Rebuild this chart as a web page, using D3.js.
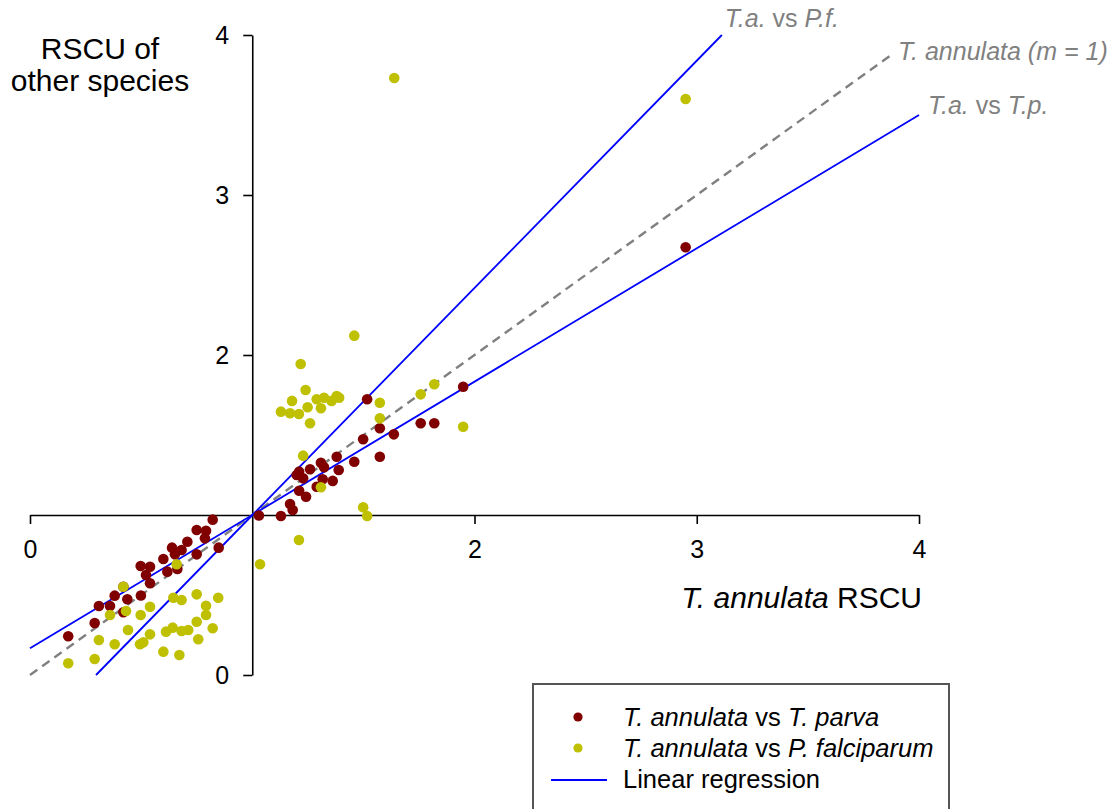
<!DOCTYPE html>
<html>
<head>
<meta charset="utf-8">
<script src="https://cdn.jsdelivr.net/npm/d3@7"></script>
<style>
  body { margin: 0; background: #fff; }
  svg { display: block; font-family: "Liberation Sans", Arial, sans-serif; }
</style>
</head>
<body>
<div id="vis"></div>
<script>
// ************************** DATA **************************//

// T. annulata RSCU (x) vs T. parva RSCU (y)
var parvaPoints = [
  [0.498,0.681],[0.420,0.552],[0.381,0.496],[0.438,0.473],[0.310,0.431],[0.360,0.431],
  [0.420,0.392],[0.291,0.325],[0.172,0.242],[0.499,0.497],[0.822,0.971],[0.750,0.906],
  [0.792,0.902],[0.787,0.854],[0.708,0.833],[0.639,0.796],[0.682,0.781],[0.652,0.754],
  [0.600,0.725],[0.750,0.754],[0.849,0.796],[0.663,0.663],[0.618,0.646],[0.540,0.677],
  [0.522,0.625],[0.540,0.573],[1.030,0.997],[1.517,1.723],[1.499,1.473],[1.574,1.542],
  [1.574,1.364],[1.380,1.364],[1.459,1.333],[1.309,1.327],[1.260,1.286],[1.211,1.271],
  [1.323,1.298],[1.389,1.281],[1.229,1.229],[1.200,1.250],[1.317,1.223],[1.362,1.213],
  [1.290,1.177],[1.211,1.152],[1.242,1.114],[1.170,1.069],[1.182,1.031],[1.129,0.994],
  [1.949,1.802],[1.637,1.504],[1.758,1.573],[1.819,1.573],[2.950,2.673]
];

// T. annulata RSCU (x) vs P. falciparum RSCU (y)
var falciparumPoints = [
  [0.420,0.552],[0.360,0.375],[0.432,0.400],[0.498,0.375],[0.441,0.281],[0.310,0.219],
  [0.381,0.192],[0.495,0.192],[0.510,0.204],[0.291,0.100],[0.172,0.073],[0.660,0.692],
  [0.645,0.483],[0.682,0.469],[0.750,0.504],[0.847,0.483],[0.540,0.427],[0.792,0.433],
  [0.792,0.375],[0.750,0.333],[0.642,0.296],[0.612,0.271],[0.682,0.275],[0.712,0.281],
  [0.822,0.292],[0.540,0.254],[0.757,0.223],[0.600,0.146],[0.672,0.125],[1.035,0.692],
  [1.459,2.121],[1.218,1.944],[1.240,1.781],[1.179,1.713],[1.290,1.723],[1.323,1.733],
  [1.380,1.744],[1.391,1.733],[1.357,1.713],[1.309,1.667],[1.249,1.673],[1.129,1.646],
  [1.170,1.636],[1.210,1.631],[1.260,1.573],[1.229,1.371],[1.309,1.173],[1.499,1.048],
  [1.517,0.994],[1.210,0.844],[1.574,1.702],[1.574,1.604],[1.758,1.754],[1.819,1.817],
  [1.949,1.552],[2.950,3.600],[1.639,3.731]
];

// regression / reference lines (end points in data units)
var pfLine = [[0.297, 0], [3.113, 4]];
var tpLine = [[0, 0.167], [4, 3.5]];
var identityLine = [[0, 0], [3.87, 3.87]];

var xTicks = [0, 2, 3, 4];
var yTicks = [0, 2, 3, 4];

// ************************** SCALES **************************//

var width = 1117, height = 809;

var x = d3.scaleLinear().domain([0, 4]).range([30, 919]);
var y = d3.scaleLinear().domain([0, 4]).range([675, 35]);

var red = "#800000", yellow = "#bfc000", blue = "#0000ff", grey = "#808080";

var svg = d3.select("#vis").append("svg")
  .attr("width", width)
  .attr("height", height);

// ************************** AXES **************************//

var xAxis = svg.append("g")
  .attr("transform", `translate(0,${y(1)})`)
  .call(d3.axisBottom(x).tickValues(xTicks).tickSize(9).tickSizeOuter(0).tickPadding(16).tickFormat(d3.format("d")));

var yAxis = svg.append("g")
  .attr("transform", `translate(${x(1)},0)`)
  .call(d3.axisLeft(y).tickValues(yTicks).tickSize(9).tickSizeOuter(0).tickPadding(14).tickFormat(d3.format("d")));

[xAxis, yAxis].forEach(g => {
  g.attr("font-family", null).attr("font-size", null);
  g.select(".domain").attr("stroke", "#000").attr("stroke-width", 1.6);
  g.selectAll(".tick line").attr("stroke", "#000").attr("stroke-width", 1.6);
  g.selectAll(".tick text").attr("fill", "#000").style("font-size", "25px");
});

// axis titles
var yTitle = svg.append("text")
  .attr("text-anchor", "middle")
  .style("font-size", "30px")
  .attr("fill", "#000");
yTitle.append("tspan").attr("x", 100).attr("y", 59).text("RSCU of");
yTitle.append("tspan").attr("x", 100).attr("y", 91).text("other species");

var xTitle = svg.append("text")
  .attr("x", 922).attr("y", 608)
  .attr("text-anchor", "end")
  .style("font-size", "30px")
  .attr("fill", "#000");
xTitle.append("tspan").style("font-style", "italic").text("T. annulata");
xTitle.append("tspan").text(" RSCU");

// ************************** LINES **************************//

var line = d3.line().x(d => x(d[0])).y(d => y(d[1]));

svg.append("path").datum(identityLine)
  .attr("d", line)
  .attr("fill", "none")
  .attr("stroke", grey)
  .attr("stroke-width", 2.4)
  .attr("stroke-dasharray", "9,6");

svg.selectAll(".reg")
  .data([pfLine, tpLine])
  .join("path")
  .attr("class", "reg")
  .attr("d", line)
  .attr("fill", "none")
  .attr("stroke", blue)
  .attr("stroke-width", 1.8);

// line labels
function lineLabel(px, py, parts) {
  var t = svg.append("text")
    .attr("x", px).attr("y", py)
    .style("font-size", "25px")
    .attr("fill", grey);
  parts.forEach(p => t.append("tspan").style("font-style", p[1] ? "italic" : "normal").text(p[0]));
}
lineLabel(x(pfLine[1][0]) + 3, y(pfLine[1][1]) - 8, [["T.a.", true], [" vs ", false], ["P.f.", true]]);
lineLabel(x(identityLine[1][0]) + 8, y(identityLine[1][1]) + 4, [["T. annulata (m = 1)", true]]);
lineLabel(x(tpLine[1][0]) + 9, y(tpLine[1][1]) - 1, [["T.a.", true], [" vs ", false], ["T.p.", true]]);

// ************************** POINTS **************************//

svg.append("g").selectAll("circle")
  .data(parvaPoints)
  .join("circle")
  .attr("cx", d => x(d[0]))
  .attr("cy", d => y(d[1]))
  .attr("r", 5.3)
  .attr("fill", red);

svg.append("g").selectAll("circle")
  .data(falciparumPoints)
  .join("circle")
  .attr("cx", d => x(d[0]))
  .attr("cy", d => y(d[1]))
  .attr("r", 5.3)
  .attr("fill", yellow);

// ************************** LEGEND **************************//

var legend = svg.append("g").attr("transform", "translate(533,684)");

legend.append("rect")
  .attr("width", 416).attr("height", 150)
  .attr("fill", "#fff")
  .attr("stroke", "#555")
  .attr("stroke-width", 2);

var legendItems = [
  { kind: "dot", color: red, parts: [["T. annulata", true], [" vs ", false], ["T. parva", true]] },
  { kind: "dot", color: yellow, parts: [["T. annulata", true], [" vs ", false], ["P. falciparum", true]] },
  { kind: "line", color: blue, parts: [["Linear regression", false]] }
];

legendItems.forEach((d, i) => {
  var cy = 33 + i * 31;
  if (d.kind === "dot") {
    legend.append("circle").attr("cx", 45).attr("cy", cy).attr("r", 4.6).attr("fill", d.color);
  } else {
    legend.append("line").attr("x1", 18).attr("x2", 74).attr("y1", cy + 1).attr("y2", cy + 1)
      .attr("stroke", d.color).attr("stroke-width", 1.8);
  }
  var t = legend.append("text")
    .attr("x", 90).attr("y", cy + 9)
    .style("font-size", "25.5px")
    .attr("fill", "#000");
  d.parts.forEach(p => t.append("tspan").style("font-style", p[1] ? "italic" : "normal").text(p[0]));
});
</script>
</body>
</html>
